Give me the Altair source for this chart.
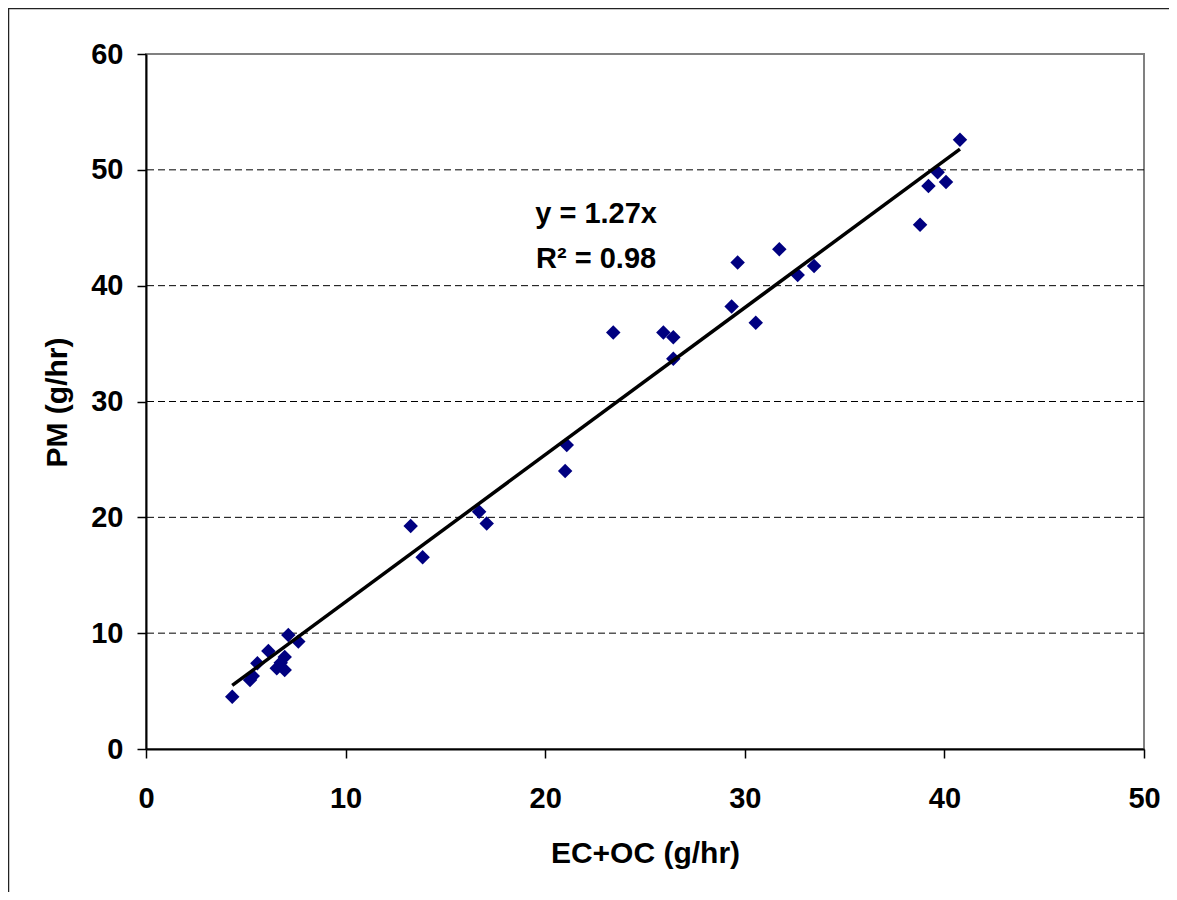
import altair as alt
import pandas as pd

# EC+OC (g/hr) and PM (g/hr)
ec_oc = [4.32, 5.21, 5.35, 5.58, 6.13, 7.13, 7.63, 6.55, 6.75, 6.95, 6.95,
         13.26, 13.86, 16.69, 17.07, 21.08, 21.0,
         23.41, 25.92, 26.42, 26.42, 29.34, 30.55, 29.64, 31.73, 32.65, 33.47,
         40.78, 39.66, 40.08, 39.2, 38.78]
pm = [4.52, 5.96, 6.3, 7.40, 8.46, 9.84, 9.27, 6.97, 7.45, 7.95, 6.82,
      19.26, 16.55, 20.49, 19.46, 26.25, 24.0,
      35.95, 35.95, 35.55, 33.7, 38.2, 36.8, 42.0, 43.15, 40.93, 41.7,
      52.6, 49.8, 48.96, 48.6, 45.25]

slope = 1.27
grid_values = [10, 20, 30, 40, 50]
x_ticks = [0, 10, 20, 30, 40, 50]
y_ticks = [0, 10, 20, 30, 40, 50, 60]
ann_text = ["y = 1.27x", "R² = 0.98"]
ann_x = [22.55, 22.55]
ann_y = [45.4, 41.5]

FONT = "Liberation Sans"

pts = pd.DataFrame({"x": ec_oc, "y": pm})
trend = pd.DataFrame({"x": [min(ec_oc), max(ec_oc)]})
trend["y"] = trend["x"] * slope
grid = pd.DataFrame({"g": grid_values})
ann = pd.DataFrame({"x": ann_x, "y": ann_y, "t": ann_text})

xscale = alt.Scale(domain=[0, 50], nice=False, zero=False)
yscale = alt.Scale(domain=[0, 60], nice=False, zero=False)

xaxis = alt.Axis(values=x_ticks, title="EC+OC (g/hr)", grid=False, labelFlush=False,
                 labelFont=FONT, labelFontSize=29, labelFontWeight="bold", labelColor="black",
                 labelPadding=26, tickSize=9, tickColor="black", tickWidth=1.5,
                 domainColor="black", domainWidth=2,
                 titleFont=FONT, titleFontSize=30, titleFontWeight="bold", titleColor="black",
                 titleBaseline="alphabetic", titleY=113)
yaxis = alt.Axis(values=y_ticks, title="PM (g/hr)", grid=False, labelFlush=False,
                 labelFont=FONT, labelFontSize=29, labelFontWeight="bold", labelColor="black",
                 labelPadding=14, tickSize=9, tickColor="black", tickWidth=1.5,
                 domainColor="black", domainWidth=2,
                 titleFont=FONT, titleFontSize=30, titleFontWeight="bold", titleColor="black",
                 titleAngle=270, titleBaseline="middle", titleX=-89, titleY=348)

frame = alt.Chart(alt.Data(values=[{"a": 1}])).mark_rect(
    fill=None, stroke="#222222", strokeWidth=1.5, clip=False
).encode(x=alt.value(-137.5), x2=alt.value(1300), y=alt.value(-45.5), y2=alt.value(1200))

gridlines = alt.Chart(grid).mark_rule(color="black", strokeWidth=1, strokeDash=[7, 4]).encode(
    y=alt.Y("g:Q", scale=yscale, axis=yaxis)
)

points = alt.Chart(pts).mark_point(shape="diamond", filled=True, color="#000080", size=210, opacity=1).encode(
    x=alt.X("x:Q", scale=xscale, axis=xaxis),
    y=alt.Y("y:Q", scale=yscale, axis=yaxis),
)

line = alt.Chart(trend).mark_line(color="black", strokeWidth=3.5).encode(
    x=alt.X("x:Q", scale=xscale),
    y=alt.Y("y:Q", scale=yscale),
)

text = alt.Chart(ann).mark_text(font=FONT, fontSize=29, fontWeight="bold", color="black",
                                align="center", baseline="alphabetic").encode(
    x=alt.X("x:Q", scale=xscale),
    y=alt.Y("y:Q", scale=yscale),
    text="t:N",
)

chart = alt.layer(frame, gridlines, points, line, text).properties(
    width=998, height=695,
    autosize=alt.AutoSizeParams(type="none"),
    padding={"left": 138, "top": 46, "right": 25, "bottom": 143},
    background="white",
).configure_view(stroke="#808080", strokeWidth=2)

chart.save("out.html", embed_options={"renderer": "svg", "actions": False})
